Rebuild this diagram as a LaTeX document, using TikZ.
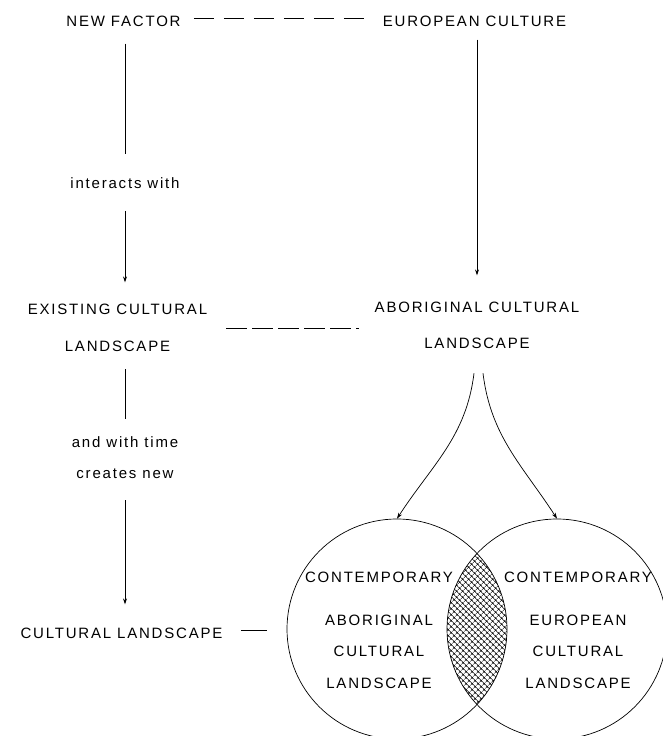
\documentclass[tikz,border=0pt]{standalone}
\usepackage{fontspec}
\newfontfamily\labfont{Liberation Sans}[LetterSpace=12]
\usetikzlibrary{arrows.meta,positioning,patterns.meta}

\begin{document}
\begin{tikzpicture}[x=1pt,y=1pt,line width=0.7pt]
  \tikzstyle{lbl}=[font=\labfont\fontsize{15}{17}\selectfont,inner sep=0pt]
  \tikzstyle{arr}=[-{Stealth[length=6pt,width=4pt]}]
  \tikzstyle{ring}=[circle,draw,minimum size=220pt,inner sep=0pt]
  \useasboundingbox (0,0) rectangle (662,736);
  % text column left and right
  \node[lbl] (nf) at (123.5,715) {NEW FACTOR};
  \node[lbl] (ec) at (474.5,715) {EUROPEAN CULTURE};
  \node[lbl] (iw) at (125,553) {interacts with};
  \node[lbl] (ex1) at (117.5,427) {EXISTING CULTURAL};
  \node[lbl,below=26.3pt of ex1] (ex2) {LANDSCAPE};
  \node[lbl] (ab1) at (477,429) {ABORIGINAL CULTURAL};
  \node[lbl,below=25.3pt of ab1] (ab2) {LANDSCAPE};
  \node[lbl] (at1) at (125,294) {and with time};
  \node[lbl] (at2) at (125,262) {creates new};
  \node[lbl] (cl) at (121.5,103) {CULTURAL LANDSCAPE};
  \coordinate (cle) at (267,106);
  % shared part of the two landscapes
  \begin{scope}
    \clip (397,107) circle[radius=110pt];
    \fill[pattern={Hatch[angle=45,distance=4pt,line width=0.6pt]}] (557,107) circle[radius=110pt];
  \end{scope}
  \node[ring] (ca) at (397,107) {};
  \node[ring] (ce) at (557,107) {};
  \node[lbl] (ca1) at (379,159) {CONTEMPORARY};
  \node[lbl] (ca2) at (379,116) {ABORIGINAL};
  \node[lbl] (ca3) at (379,85) {CULTURAL};
  \node[lbl] (ca4) at (379,53) {LANDSCAPE};
  \node[lbl] (ce1) at (578,159) {CONTEMPORARY};
  \node[lbl] (ce2) at (578,116) {EUROPEAN};
  \node[lbl] (ce3) at (578,85) {CULTURAL};
  \node[lbl] (ce4) at (578,53) {LANDSCAPE};
  % vertical flow
  \draw[shorten <=17pt,shorten >=23pt] (iw |- nf.south) -- (iw.north);
  \draw[arr,shorten <=22pt,shorten >=21pt] (iw.south) -- (iw |- ex1.north);
  \draw[arr,shorten <=13pt,shorten >=26pt] (ab1 |- ec.south) -- (ab1.north);
  \draw[shorten <=17pt,shorten >=17pt] (at1 |- ex2.south) -- (at1.north);
  \draw[arr,shorten <=21pt,shorten >=23pt] (at2.south) -- (at2 |- cl.north);
  % dashed ties
  \draw[dash pattern=on 20pt off 10pt,shorten <=13pt,shorten >=11pt] ([yshift=3pt]nf.east) -- ([yshift=3pt]ec.west);
  \draw[dash pattern=on 21pt off 5pt] ([xshift=19pt,yshift=-19pt]ex1.east) -- ([xshift=-15pt,yshift=-21pt]ab1.west);
  \draw[shorten <=18pt] ([yshift=3pt]cl.east) -- (cle);
  % split into the two circles
  \draw[arr] ([xshift=-3pt,yshift=-24pt]ab2.south) to[out=-97,in=57] (ca.north);
  \draw[arr] ([xshift=6pt,yshift=-24pt]ab2.south) to[out=-83,in=123] (ce.north);
\end{tikzpicture}
\end{document}
